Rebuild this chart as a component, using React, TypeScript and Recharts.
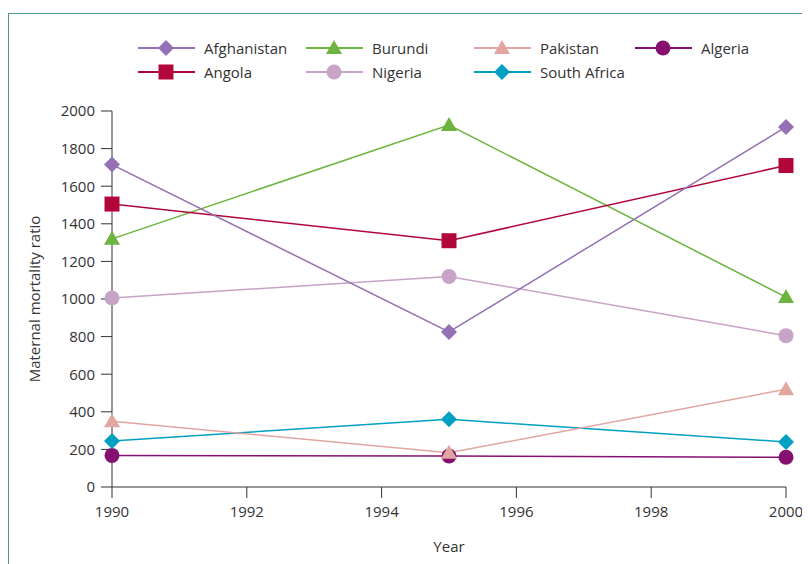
import React from "react";
import { LineChart, Line, XAxis, YAxis } from "recharts";

// ─── Maternal mortality ratio, 1990 / 1995 / 2000, seven countries ──────────

const years = [1990, 1995, 2000];
const afghanistan = [1715, 825, 1915];
const angola = [1505, 1310, 1710];
const burundi = [1320, 1925, 1010];
const nigeria = [1005, 1120, 805];
const pakistan = [350, 182, 520];
const southAfrica = [245, 360, 240];
const algeria = [168, 165, 158];

const xTicks = [1990, 1992, 1994, 1996, 1998, 2000];
const yTicks = [0, 200, 400, 600, 800, 1000, 1200, 1400, 1600, 1800, 2000];

type Shape = "diamond" | "square" | "triangle" | "circle";

interface Series {
  key: string;
  name: string;
  color: string;
  shape: Shape;
  values: number[];
}

// legend reads row by row, 4 columns
const legendOrder = ["afghanistan", "burundi", "pakistan", "algeria", "angola", "nigeria", "southAfrica"];
// draw order: low lines first so the pink triangle sits over the Algeria dot
const series: Series[] = [
  { key: "algeria", name: "Algeria", color: "#86106f", shape: "circle", values: algeria },
  { key: "southAfrica", name: "South Africa", color: "#00a0c3", shape: "diamond", values: southAfrica },
  { key: "pakistan", name: "Pakistan", color: "#e1a69f", shape: "triangle", values: pakistan },
  { key: "nigeria", name: "Nigeria", color: "#c7a3c8", shape: "circle", values: nigeria },
  { key: "burundi", name: "Burundi", color: "#6cb33f", shape: "triangle", values: burundi },
  { key: "angola", name: "Angola", color: "#b2063a", shape: "square", values: angola },
  { key: "afghanistan", name: "Afghanistan", color: "#9470b4", shape: "diamond", values: afghanistan },
];

const data = years.map((year, i) => {
  const row: Record<string, number> = { year };
  for (const s of series) row[s.key] = s.values[i];
  return row;
});

const FONT = "'Open Sans', 'Noto Sans', sans-serif";
const TEXT = "#333333";

function Marker({ shape, cx, cy, color }: { shape: Shape; cx: number; cy: number; color: string }) {
  switch (shape) {
    case "diamond":
      return <polygon points={`${cx},${cy - 8} ${cx + 8},${cy} ${cx},${cy + 8} ${cx - 8},${cy}`} fill={color} />;
    case "square":
      return <rect x={cx - 7.5} y={cy - 7.5} width={15} height={15} fill={color} />;
    case "triangle":
      return <polygon points={`${cx},${cy - 8} ${cx + 8},${cy + 6} ${cx - 8},${cy + 6}`} fill={color} />;
    default:
      return <circle cx={cx} cy={cy} r={7.5} fill={color} />;
  }
}

function LegendBlock() {
  return (
    <div style={{ position: "absolute", left: 0, top: 0, width: "100%", fontFamily: FONT, fontSize: 15, color: TEXT }}>
      {legendOrder.map((k, i) => {
        const s = series.find((x) => x.key === k)!;
        const col = i % 4;
        const row = Math.floor(i / 4);
        const left = [129, 297, 465, 626][col];
        return (
          <div
            key={k}
            style={{ position: "absolute", left, top: 34 + row * 24 - 10, height: 20, display: "flex", alignItems: "center" }}
          >
            <svg width={58} height={20} style={{ display: "block" }}>
              <line x1={0} y1={10} x2={57} y2={10} stroke={s.color} strokeWidth={2} />
              <Marker shape={s.shape} cx={28} cy={10} color={s.color} />
            </svg>
            <span style={{ marginLeft: 8, lineHeight: "20px", whiteSpace: "nowrap" }}>{s.name}</span>
          </div>
        );
      })}
    </div>
  );
}

export default function App() {
  return (
    <div
      style={{
        position: "relative",
        marginTop: 5,
        width: 801,
        height: 550,
        borderLeft: "1px solid #4e9e78",
        borderTop: "1px solid #4e9e78",
        background: "#fff",
      }}
    >
      <LegendBlock />
      <LineChart width={801} height={550} data={data} margin={{ top: 97, right: 24, left: 0, bottom: 0 }}>
        <XAxis
          dataKey="year"
          type="number"
          domain={[1990, 2000]}
          ticks={xTicks}
          tickSize={11}
          tickMargin={8}
          stroke="#333"
          tick={{ fill: TEXT, fontSize: 15, fontFamily: FONT }}
          height={77}
          label={{ value: "Year", position: "insideBottom", offset: 12, fill: TEXT, fontSize: 15, fontFamily: FONT }}
        />
        <YAxis
          domain={[0, 2000]}
          ticks={yTicks}
          tickSize={11}
          tickMargin={6}
          stroke="#333"
          width={103}
          tick={{ fill: TEXT, fontSize: 15, fontFamily: FONT }}
          label={{
            value: "Maternal mortality ratio",
            angle: -90,
            position: "insideLeft",
            offset: 26,
            fill: TEXT,
            fontSize: 15,
            fontFamily: FONT,
            style: { textAnchor: "middle" },
          }}
        />
        {series.map((s) => (
          <Line
            key={s.key}
            dataKey={s.key}
            name={s.name}
            stroke={s.color}
            strokeWidth={1.5}
            isAnimationActive={false}
            dot={(p: any) => <Marker key={`${s.key}-${p.index}`} shape={s.shape} cx={p.cx} cy={p.cy} color={s.color} />}
            activeDot={false}
          />
        ))}
      </LineChart>
    </div>
  );
}
